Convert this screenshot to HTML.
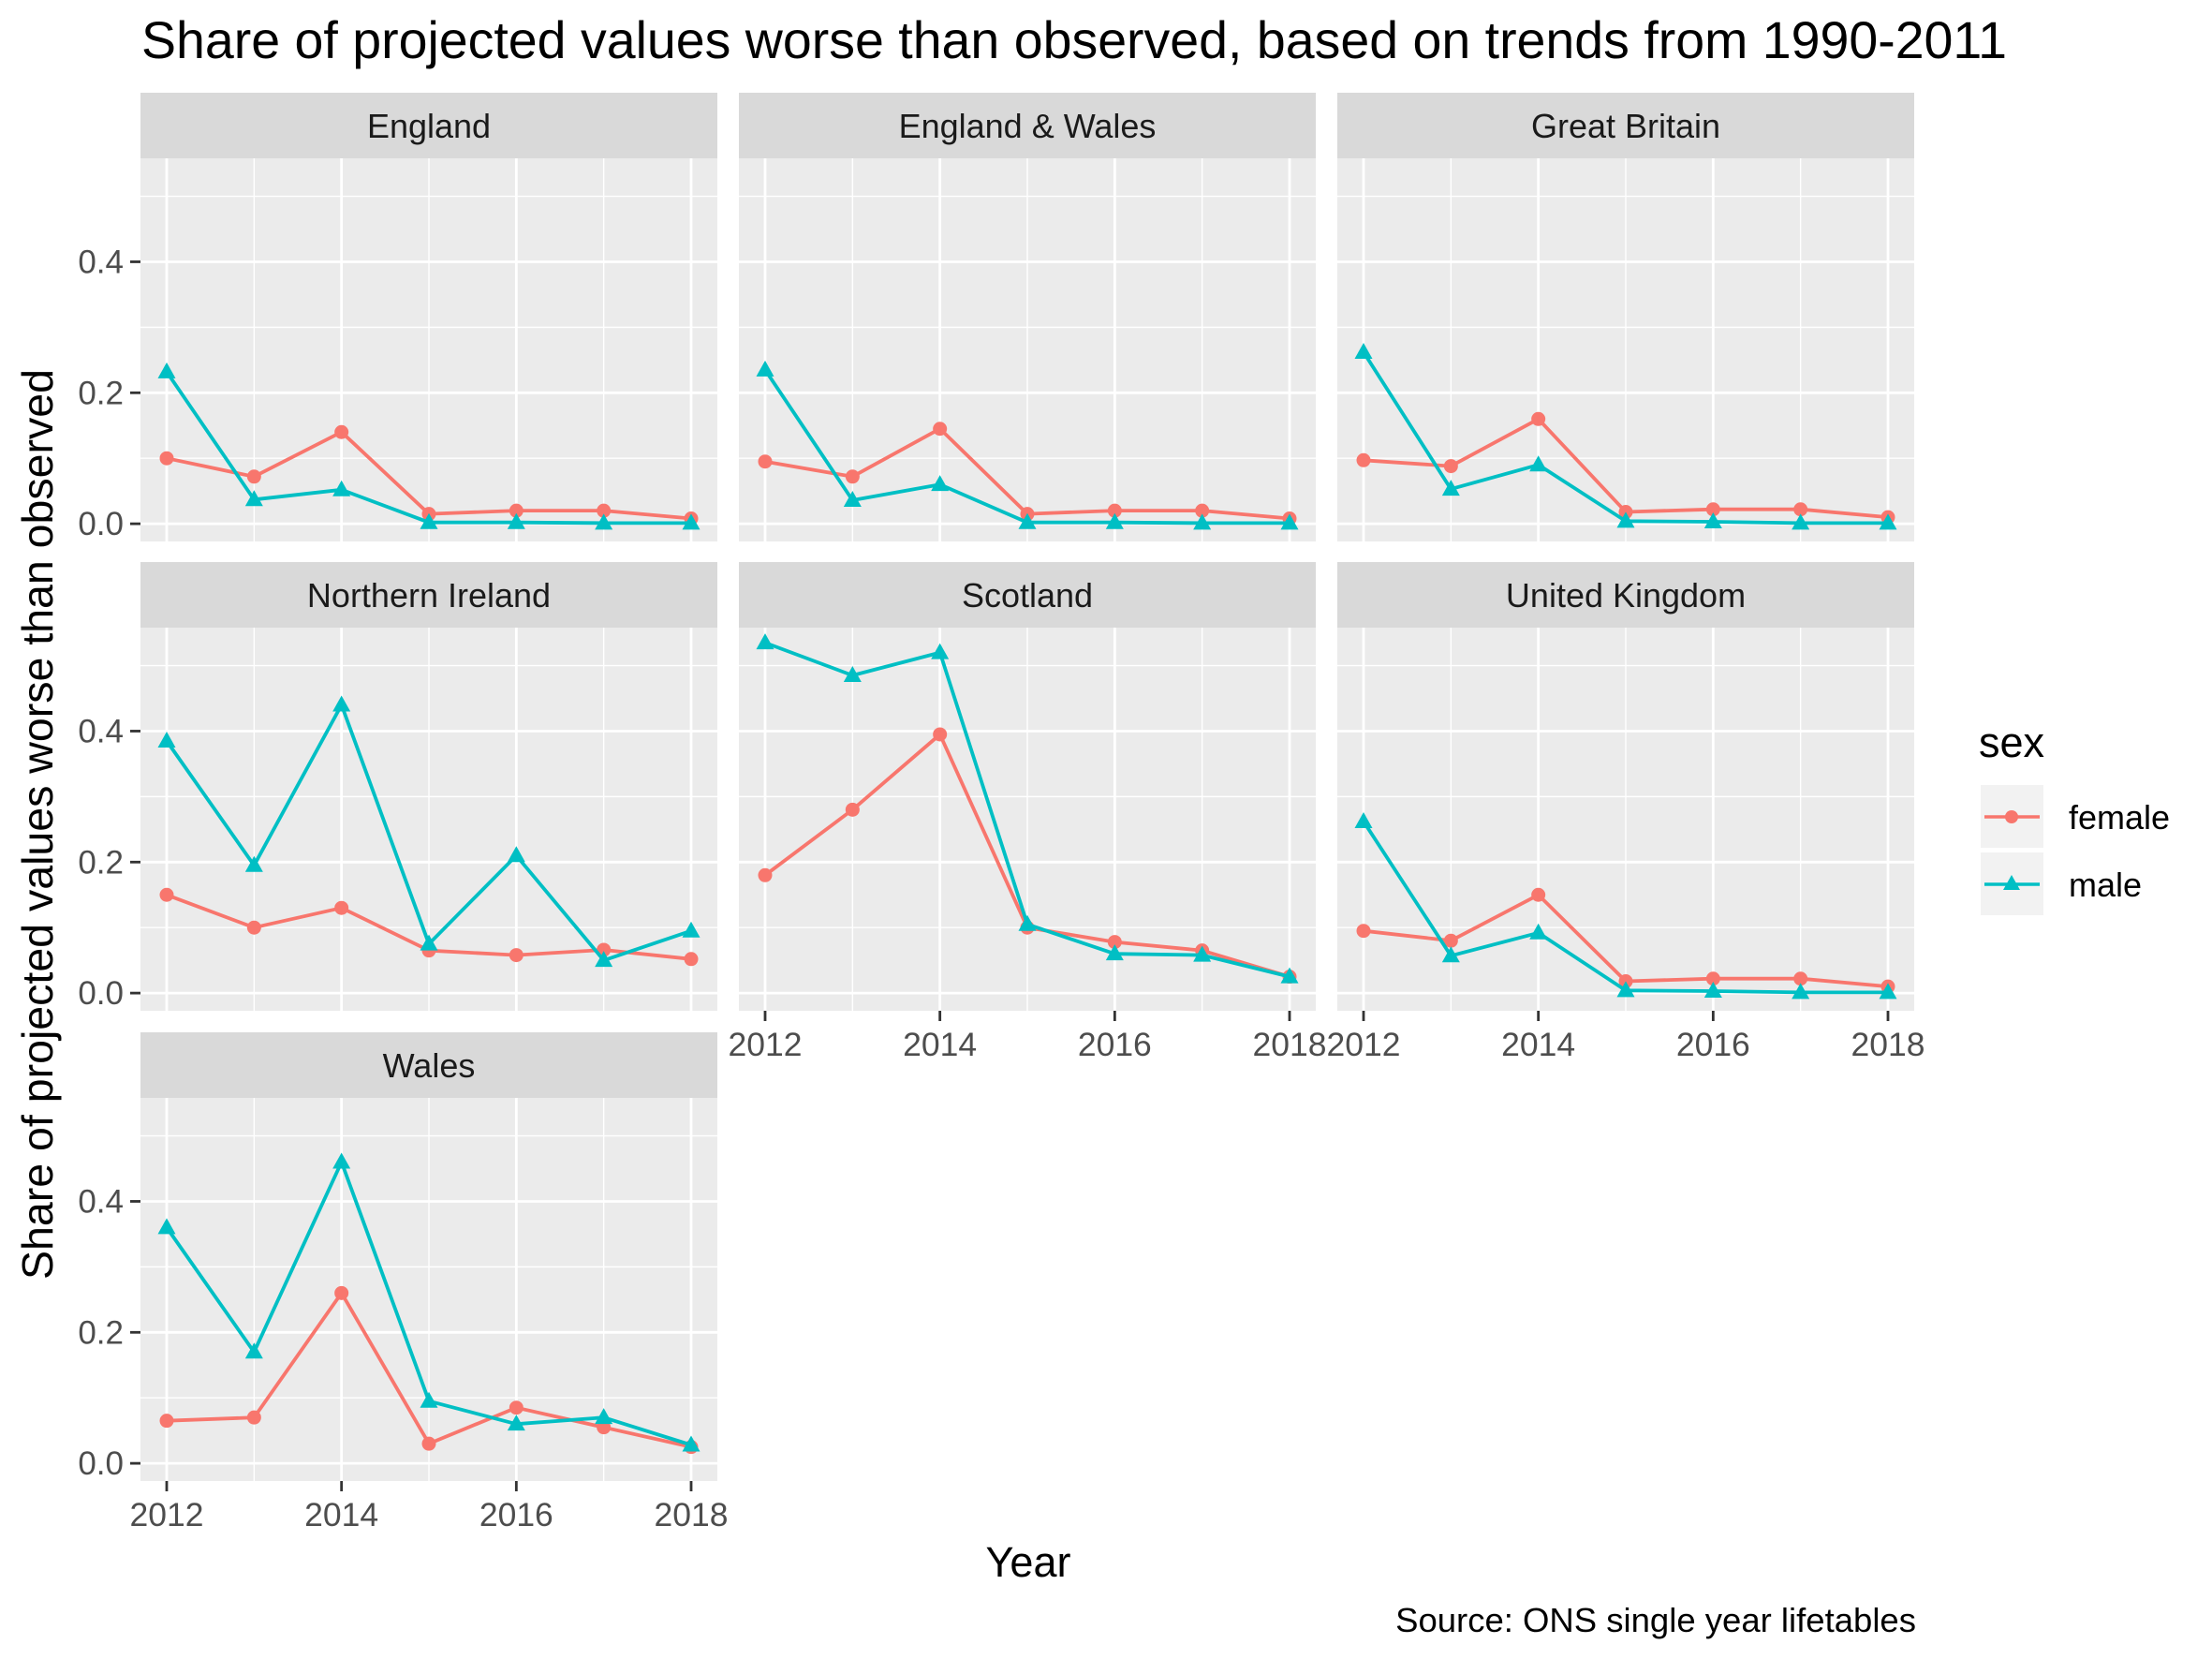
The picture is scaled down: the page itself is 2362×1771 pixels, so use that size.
<!DOCTYPE html>
<html><head><meta charset="utf-8"><style>
html,body{margin:0;padding:0;background:#fff;}
svg{display:block;font-family:"Liberation Sans",Arial,sans-serif;}
</style></head><body>
<svg id="chart" width="2362" height="1771" viewBox="0 0 2362 1771" xmlns="http://www.w3.org/2000/svg">
<rect width="2362" height="1771" fill="#fff"/>
<text x="151" y="62" font-size="55.5" fill="#000">Share of projected values worse than observed, based on trends from 1990-2011</text>
<text transform="translate(56,880) rotate(-90)" text-anchor="middle" font-size="46.5" fill="#000">Share of projected values worse than observed</text>
<text x="1098" y="1683" text-anchor="middle" font-size="45" fill="#000">Year</text>
<text x="2046" y="1742" text-anchor="end" font-size="36.5" fill="#000">Source: ONS single year lifetables</text>
<g id="panels"></g>
<g id="legend">
<text x="2113" y="808" font-size="45" fill="#000">sex</text>
<rect x="2115" y="838" width="67" height="67" fill="#f2f2f2"/>
<line x1="2119" y1="872" x2="2178" y2="872" stroke="#F8766D" stroke-width="3.5"/>
<circle cx="2148" cy="872" r="7" fill="#F8766D"/>
<text x="2209" y="885" font-size="36" fill="#000">female</text>
<rect x="2115" y="910" width="67" height="67" fill="#f2f2f2"/>
<line x1="2119" y1="944" x2="2178" y2="944" stroke="#00BFC4" stroke-width="3.5"/>
<path d="M2148 934 L2157 950 L2139 950 Z" fill="#00BFC4"/>
<text x="2209" y="957" font-size="36" fill="#000">male</text>
</g>
</svg>
<script>
const years = [2012, 2013, 2014, 2015, 2016, 2017, 2018];
const regions = ["England", "England & Wales", "Great Britain", "Northern Ireland", "Scotland", "United Kingdom", "Wales"];
const femaleEngland = [0.100, 0.072, 0.140, 0.015, 0.020, 0.020, 0.008];
const maleEngland = [0.232, 0.037, 0.052, 0.002, 0.002, 0.001, 0.001];
const femaleEW = [0.095, 0.072, 0.145, 0.015, 0.020, 0.020, 0.008];
const maleEW = [0.235, 0.036, 0.060, 0.002, 0.002, 0.001, 0.001];
const femaleGB = [0.097, 0.088, 0.160, 0.018, 0.022, 0.022, 0.010];
const maleGB = [0.262, 0.053, 0.090, 0.004, 0.003, 0.001, 0.001];
const femaleNI = [0.150, 0.100, 0.130, 0.065, 0.058, 0.066, 0.052];
const maleNI = [0.385, 0.195, 0.440, 0.075, 0.210, 0.050, 0.095];
const femaleScotland = [0.180, 0.280, 0.395, 0.100, 0.078, 0.065, 0.025];
const maleScotland = [0.535, 0.485, 0.520, 0.105, 0.060, 0.058, 0.025];
const femaleUK = [0.095, 0.080, 0.150, 0.018, 0.022, 0.022, 0.010];
const maleUK = [0.262, 0.057, 0.092, 0.004, 0.003, 0.001, 0.001];
const femaleWales = [0.065, 0.070, 0.260, 0.030, 0.085, 0.055, 0.025];
const maleWales = [0.360, 0.170, 0.460, 0.095, 0.060, 0.070, 0.028];
const femaleSeries = [femaleEngland, femaleEW, femaleGB, femaleNI, femaleScotland, femaleUK, femaleWales];
const maleSeries = [maleEngland, maleEW, maleGB, maleNI, maleScotland, maleUK, maleWales];
const yTicks = [0.0, 0.2, 0.4];
const yTickLabels = ["0.0", "0.2", "0.4"];
const yMinor = [0.1, 0.3, 0.5];
const xTicks = [2012, 2014, 2016, 2018];

const NS = "http://www.w3.org/2000/svg";
const root = document.getElementById("panels");
const colX0 = [150, 789, 1428], PW = 616;
const rowY0 = [99, 600, 1102], STRIP = 70, PH = 409;
const Y0 = -0.027, Y1 = 0.558;
function mk(tag, attrs, parent){const e=document.createElementNS(NS,tag);for(const k in attrs)e.setAttribute(k,attrs[k]);(parent||root).appendChild(e);return e;}
function slug(s){return s.toLowerCase().replace(/&/g,"and").replace(/[^a-z0-9]+/g,"-");}

regions.forEach((reg, i) => {
  const col = i % 3, row = Math.floor(i / 3);
  const px = colX0[col], sy = rowY0[row], py = sy + STRIP;
  const xs = y => px + 28 + (y - 2012) / 6 * (PW - 56);
  const ys = v => py + PH - (v - Y0) / (Y1 - Y0) * PH;
  const g = mk("g", {});
  
  
  const st = mk("rect", {x:px, y:sy, width:PW, height:STRIP, fill:"#D9D9D9"}, g);
  
  
  const stt = mk("text", {x:px+PW/2, y:sy+STRIP/2+13, "text-anchor":"middle", "font-size":"36", fill:"#1A1A1A"}, g);
  stt.textContent = reg;
  
  
  const bg = mk("rect", {x:px, y:py, width:PW, height:PH, fill:"#EBEBEB"}, g);
  
  
  yMinor.forEach(v => { const l = mk("line", {x1:px, x2:px+PW, y1:ys(v), y2:ys(v), stroke:"#fff", "stroke-width":1.4}, g);
      });
  years.forEach(y => { if (y % 2) { const l = mk("line", {x1:xs(y), x2:xs(y), y1:py, y2:py+PH, stroke:"#fff", "stroke-width":1.4}, g);
      }});
  yTicks.forEach(v => { const l = mk("line", {x1:px, x2:px+PW, y1:ys(v), y2:ys(v), stroke:"#fff", "stroke-width":2.8}, g);
      });
  xTicks.forEach(y => { const l = mk("line", {x1:xs(y), x2:xs(y), y1:py, y2:py+PH, stroke:"#fff", "stroke-width":2.8}, g);
      });
  if (col === 0) {
    yTicks.forEach((v, k) => {
      const t = mk("line", {x1:px-11, x2:px, y1:ys(v), y2:ys(v), stroke:"#333", "stroke-width":2.8}, g);
       
      const tl = mk("text", {x:px-18, y:ys(v)+12, "text-anchor":"end", "font-size":"35", fill:"#4D4D4D"}, g);
      tl.textContent = yTickLabels[k];
       
    });
  }
  if (i >= 4) {
    xTicks.forEach(y => {
      const t = mk("line", {x1:xs(y), x2:xs(y), y1:py+PH, y2:py+PH+11, stroke:"#333", "stroke-width":2.8}, g);
       
      const tl = mk("text", {x:xs(y), y:py+PH+48, "text-anchor":"middle", "font-size":"35.5", fill:"#4D4D4D"}, g);
      tl.textContent = y;
       
    });
  }
  [[femaleSeries[i], "#F8766D", "female"], [maleSeries[i], "#00BFC4", "male"]].forEach(([vals, c, sx]) => {
    const pts = vals.map((v, k) => xs(years[k]).toFixed(1) + "," + ys(v).toFixed(1)).join(" ");
    const pl = mk("polyline", {points:pts, fill:"none", stroke:c, "stroke-width":3.8, "stroke-linejoin":"round"}, g);
    
    
    vals.forEach((v, k) => {
      const cx = xs(years[k]), cy = ys(v);
      let m;
      if (sx === "female") m = mk("circle", {cx:cx, cy:cy, r:7.5, fill:c}, g);
      else m = mk("path", {d:`M${cx} ${cy-10} L${cx+9.5} ${cy+7} L${cx-9.5} ${cy+7} Z`, fill:c}, g);
      
      
    });
  });
});
</script>
</body></html>
